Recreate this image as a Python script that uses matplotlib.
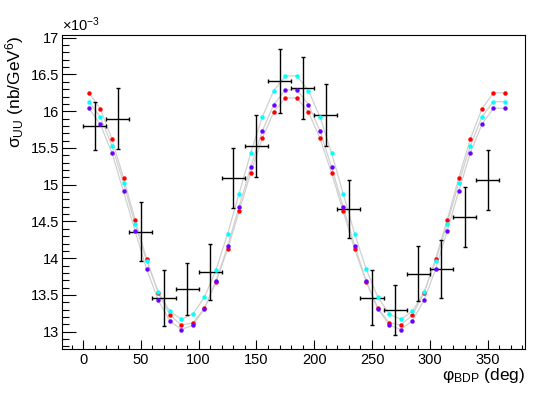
import matplotlib
matplotlib.use("Agg")
import matplotlib.pyplot as plt
from matplotlib.ticker import MultipleLocator, FormatStrFormatter

plt.rcParams['font.family'] = ['Liberation Sans', 'DejaVu Sans']
plt.rcParams['mathtext.fontset'] = 'custom'
plt.rcParams['mathtext.rm'] = 'Liberation Sans'
plt.rcParams['mathtext.it'] = 'Liberation Sans:italic'

# model points (sigma_UU in units of 1e-3 nb/GeV^6)
phi_model = [5, 15, 25, 35, 45, 55, 65, 75, 85, 95, 105, 115, 125, 135, 145, 155, 165, 175,
             185, 195, 205, 215, 225, 235, 245, 255, 265, 275, 285, 295, 305, 315, 325, 335,
             345, 355, 365]
red = [16.25, 16.03, 15.62, 15.09, 14.52, 13.99, 13.53, 13.23, 13.09, 13.12, 13.32, 13.68,
       14.12, 14.64, 15.16, 15.63, 15.99, 16.18, 16.18, 15.99, 15.63, 15.16, 14.64, 14.12,
       13.68, 13.32, 13.12, 13.09, 13.23, 13.53, 13.99, 14.52, 15.09, 15.62, 16.03, 16.25,
       16.25]
cyan = [16.13, 15.92, 15.53, 15.02, 14.47, 13.96, 13.54, 13.28, 13.17, 13.24, 13.47, 13.84,
        14.33, 14.88, 15.43, 15.92, 16.28, 16.48, 16.48, 16.28, 15.92, 15.43, 14.88, 14.33,
        13.85, 13.47, 13.24, 13.17, 13.28, 13.54, 13.96, 14.47, 15.02, 15.53, 15.92, 16.13,
        16.13]
purple = [16.04, 15.82, 15.43, 14.91, 14.37, 13.85, 13.43, 13.15, 13.03, 13.09, 13.31, 13.69,
          14.16, 14.70, 15.24, 15.73, 16.09, 16.29, 16.29, 16.09, 15.73, 15.24, 14.70, 14.17,
          13.69, 13.31, 13.09, 13.03, 13.15, 13.43, 13.85, 14.37, 14.91, 15.43, 15.82, 16.04,
          16.04]

# pseudo-data with errors
phi_data = [10, 30, 50, 70, 90, 110, 130, 150, 170, 190, 210, 230, 250, 270, 290, 310, 330, 350]
sigma_data = [15.80, 15.90, 14.36, 13.46, 13.58, 13.81, 15.09, 15.53, 16.41, 16.32, 15.95,
              14.67, 13.46, 13.30, 13.79, 13.85, 14.56, 15.06]
sigma_err = [0.33, 0.415, 0.40, 0.38, 0.35, 0.385, 0.41, 0.425, 0.43, 0.42, 0.42, 0.40,
             0.375, 0.34, 0.37, 0.395, 0.41, 0.41]
phi_err = [10] * len(phi_data)

fig = plt.figure(figsize=(5.43, 3.94), dpi=100)
ax = fig.add_axes([0.1147, 0.1142, 0.8527, 0.797])

# curves
for vals in (red, cyan, purple):
    ax.plot(phi_model, vals, color='#d0d0d0', lw=0.9, zorder=1)

ax.errorbar(phi_data, sigma_data, xerr=phi_err, yerr=sigma_err, fmt='none',
            ecolor='black', elinewidth=1.0, capsize=1.6, capthick=1.0, zorder=2)

ax.plot(phi_model, red, 'o', color='#ff0000', ms=3.2, mew=0, zorder=3)
ax.plot(phi_model, cyan, 'o', color='#00ffff', ms=3.2, mew=0, zorder=3)
ax.plot(phi_model, purple, 'o', color='#6a00ff', ms=3.2, mew=0, zorder=3)

ax.set_xlim(-18, 382.6)
ax.set_ylim(12.765, 17.037)

ax.xaxis.set_major_locator(MultipleLocator(50))
ax.xaxis.set_minor_locator(MultipleLocator(10))
ax.yaxis.set_major_locator(MultipleLocator(0.5))
ax.yaxis.set_minor_locator(MultipleLocator(0.1))
ax.yaxis.set_major_formatter(FormatStrFormatter('%g'))

ax.tick_params(axis='x', which='major', direction='in', length=6.5, width=0.8, pad=3,
               labelsize=10.5)
ax.tick_params(axis='x', which='minor', direction='in', length=3.2, width=0.8)
ax.tick_params(axis='y', which='major', direction='in', length=9.8, width=0.8, pad=2,
               labelsize=10.5)
ax.tick_params(axis='y', which='minor', direction='in', length=4.8, width=0.8)

for s in ax.spines.values():
    s.set_linewidth(0.8)

ax.set_xlabel(r'φ$_{\mathrm{BDP}}$ (deg)', fontsize=12.5, loc='right', labelpad=-1)
ax.set_ylabel(r'σ$_{\mathrm{UU}}$ (nb/GeV$^{6}$)', fontsize=12.5, loc='top', labelpad=4)

ax.text(0.0, 1.003, r'$\times$10$^{-3}$', transform=ax.transAxes, ha='left', va='bottom',
        fontsize=10.5)

fig.savefig('out.png', dpi=100)
